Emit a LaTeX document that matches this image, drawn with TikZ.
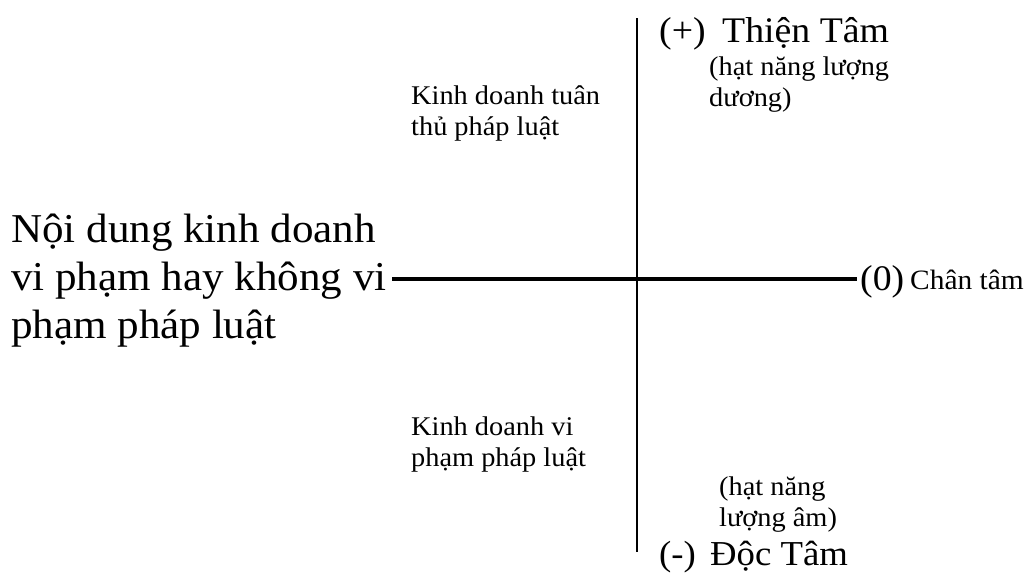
\documentclass[tikz,border=0pt]{standalone}
\usepackage{fontspec}
\setmainfont{Liberation Serif}[FakeStretch=1.05]
\begin{document}
\begin{tikzpicture}[x=1pt,y=-1pt,
  lbl/.style={inner sep=0pt, anchor=base west, align=left},
  axisline/.style={line width=3pt, black}]
\useasboundingbox (0,0) rectangle (1024,581);
% axes
\coordinate (vtop) at (637,18);
\coordinate (vbot) at (637,552);
\coordinate (hl) at (392,279);
\coordinate (hr) at (857,279);
\draw[axisline, line width=2.8pt] (vtop) -- (vbot);
\draw[axisline, line width=3.4pt] (hl) -- (hr);
% left text (anchor = baseline of last line)
\node[lbl, font=\fontsize{41}{48}\selectfont] (main) at (11,338)
  {Nội dung kinh doanh\\vi phạm hay không vi\\phạm pháp luật};
% quadrant labels
\node[lbl, font=\fontsize{27}{31}\selectfont] (legal) at (411,135)
  {Kinh doanh tuân\\thủ pháp luật};
\node[lbl, font=\fontsize{27}{31}\selectfont] (illegal) at (411,466)
  {Kinh doanh vi\\phạm pháp luật};
% top
\node[lbl, font=\fontsize{36}{40}\selectfont] (plus) at (659,42) {(+)};
\node[lbl, font=\fontsize{36}{40}\selectfont] (thien) at (722,42) {Thiện Tâm};
\node[lbl, font=\fontsize{27}{31}\selectfont] (duong) at (709,106)
  {(hạt năng lượng\\dương)};
% right
\node[lbl, font=\fontsize{36}{40}\selectfont] (zero) at (860,290) {(0)};
\node[lbl, font=\fontsize{28}{32}\selectfont] (chan) at (910,289) {Chân tâm};
% bottom
\node[lbl, font=\fontsize{27}{31}\selectfont] (am) at (719,526)
  {(hạt năng\\lượng âm)};
\node[lbl, font=\fontsize{35}{40}\selectfont] (minus) at (659,565) {(-)};
\node[lbl, font=\fontsize{35}{40}\selectfont] (doc) at (710,565) {Độc Tâm};
\end{tikzpicture}
\end{document}
